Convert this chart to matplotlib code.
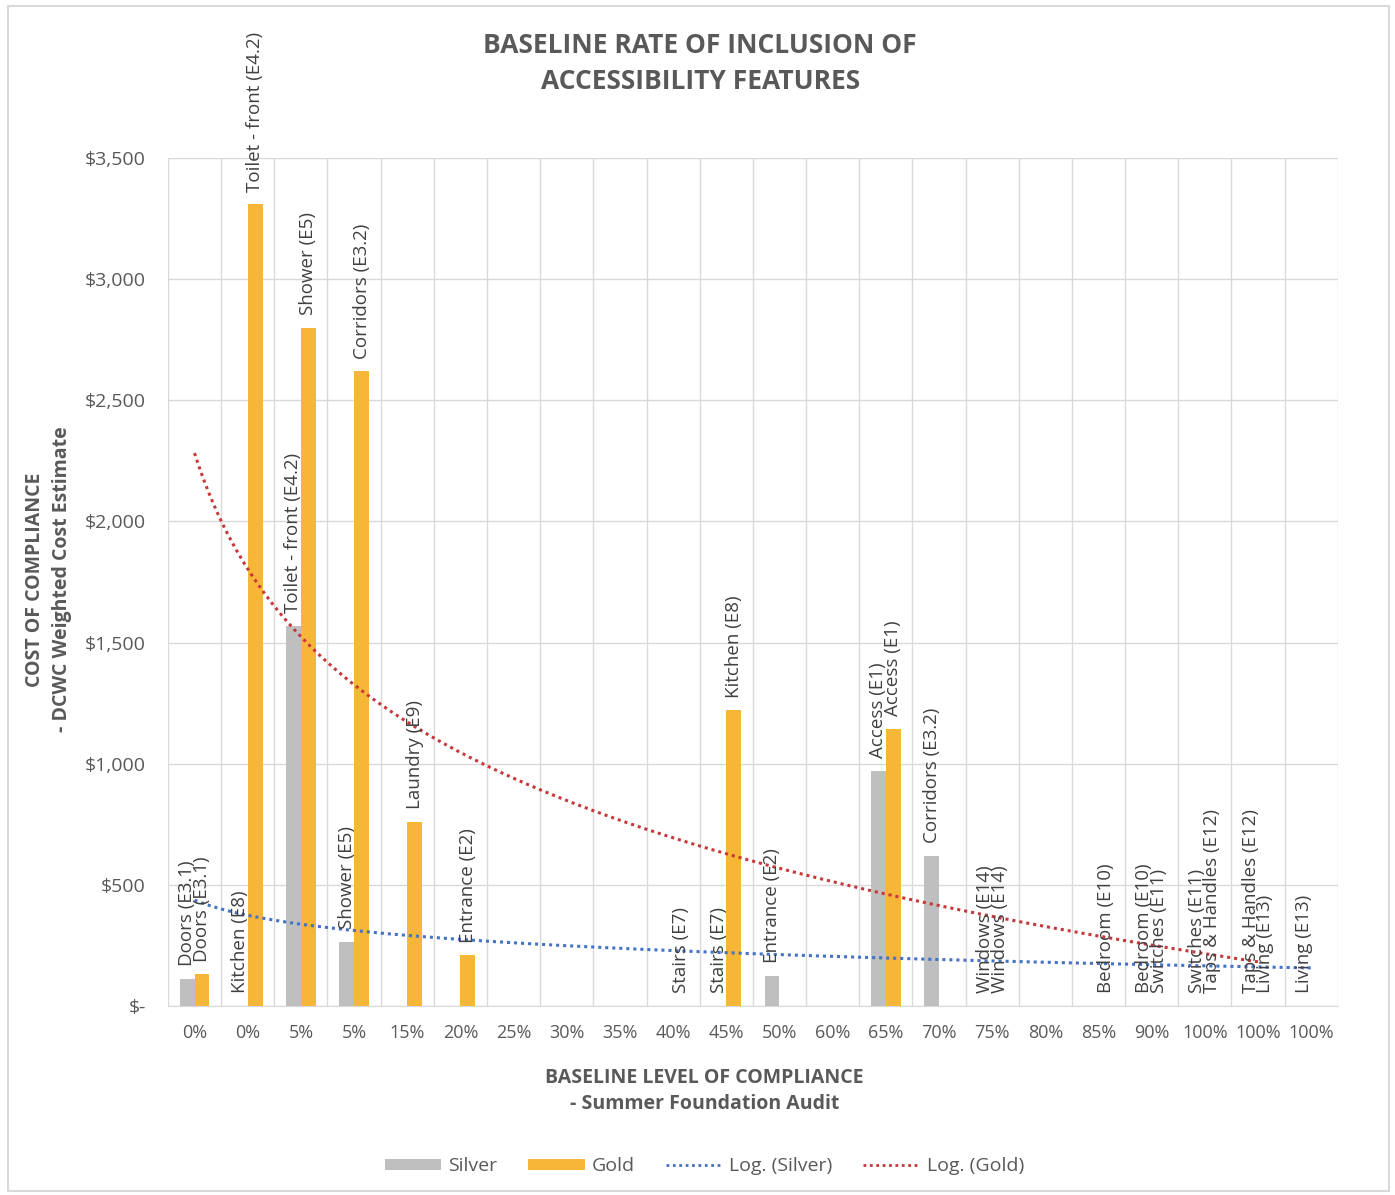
import matplotlib
matplotlib.use("Agg")
import matplotlib.pyplot as plt
import numpy as np
from matplotlib.patches import Patch, Rectangle
from matplotlib.lines import Line2D
from matplotlib.ticker import FuncFormatter

plt.rcParams["font.family"] = ["Open Sans", "DejaVu Sans"]

# categories (baseline level of compliance)
categories = ["0%", "0%", "5%", "5%", "15%", "20%", "25%", "30%", "35%", "40%", "45%",
              "50%", "60%", "65%", "70%", "75%", "80%", "85%", "90%", "100%", "100%", "100%"]

nan = np.nan
silver = [113, 0, 1570, 265, nan, nan, nan, nan, nan, nan, 0,
          124, nan, 970, 620, 0, nan, nan, 0, 0, 0, 0]
gold = [130, 3310, 2800, 2620, 760, 210, nan, nan, nan, 0, 1220,
        nan, nan, 1145, nan, 0, nan, 0, 0, 0, 0, nan]

silver_labels = ["Doors (E3.1)", "Kitchen (E8)", "Toilet - front (E4.2)", "Shower (E5)",
                 None, None, None, None, None, None, "Stairs (E7)",
                 "Entrance (E2)", None, "Access (E1)", "Corridors (E3.2)", "Windows (E14)",
                 None, None, "Bedroom (E10)", "Switches (E11)", "Taps & Handles (E12)", "Living (E13)"]
gold_labels = ["Doors (E3.1)", "Toilet - front (E4.2)", "Shower (E5)", "Corridors (E3.2)",
               "Laundry (E9)", "Entrance (E2)", None, None, None, "Stairs (E7)", "Kitchen (E8)",
               None, None, "Access (E1)", None, "Windows (E14)",
               None, "Bedroom (E10)", "Switches (E11)", "Taps & Handles (E12)", "Living (E13)", None]

# logarithmic trendlines y = a*ln(x) + b, x = category number
log_silver = (-90.6, 437.0)
log_gold = (-689.7, 2282.0)
n_silver_pts = 22
n_gold_pts = 21

C_SILVER = "#BFBFBF"
C_GOLD = "#F6B637"
C_TEXT = "#595959"
C_LABEL = "#404040"
C_GRID = "#D9D9D9"

fig = plt.figure(figsize=(13.95, 11.95), dpi=100)
ax = fig.add_axes([0.1204, 0.1582, 0.8386, 0.7096])

x = np.arange(len(categories))
w = 0.28
ax.bar(x - w / 2, silver, width=w, color=C_SILVER, zorder=3)
ax.bar(x + w / 2, gold, width=w, color=C_GOLD, zorder=3)

for xs, vals, labs in [(x - w / 2, silver, silver_labels), (x + w / 2, gold, gold_labels)]:
    for xi, v, lab in zip(xs, vals, labs):
        if lab is None:
            continue
        ax.annotate(lab, (xi, v), xytext=(0, 9), textcoords="offset points",
                    rotation=90, ha="center", va="bottom", fontsize=13.5,
                    color=C_LABEL, zorder=5)

# trendlines
xt = np.linspace(1, n_silver_pts, 300)
a, b = log_silver
ax.plot(xt - 1, a * np.log(xt) + b, color="#4472C4", lw=2.2,
        linestyle=(0, (1, 1.3)), zorder=4)
xt = np.linspace(1, n_gold_pts, 300)
a, b = log_gold
ax.plot(xt - 1, a * np.log(xt) + b, color="#C8373A", lw=2.2,
        linestyle=(0, (1, 1.3)), zorder=4)

ax.set_xlim(-0.5, len(categories) - 0.5)
ax.set_ylim(0, 3500)
ax.set_yticks(np.arange(0, 3501, 500))
ax.yaxis.set_major_formatter(FuncFormatter(lambda v, p: "$-" if v == 0 else f"${v:,.0f}"))
ax.set_xticks(x)
ax.set_xticklabels(categories)
ax.set_xticks(np.arange(-0.5, len(categories)), minor=True)
ax.tick_params(axis="both", which="both", length=0, labelsize=13, colors=C_TEXT)
ax.tick_params(axis="y", labelsize=14, pad=16)
ax.tick_params(axis="x", pad=13)
ax.grid(axis="y", which="major", color=C_GRID, lw=1, zorder=0)
ax.grid(axis="x", which="minor", color=C_GRID, lw=1, zorder=0)
for s in ["top", "right", "left"]:
    ax.spines[s].set_visible(False)
ax.spines["bottom"].set_color(C_GRID)

fig.text(0.502, 0.947, "BASELINE RATE OF INCLUSION OF\nACCESSIBILITY FEATURES",
         ha="center", va="center", fontsize=19, fontweight="bold", color=C_TEXT,
         linespacing=1.45)
fig.text(0.505, 0.087, "BASELINE LEVEL OF COMPLIANCE\n- Summer Foundation Audit",
         ha="center", va="center", fontsize=14, fontweight="bold", color=C_TEXT,
         linespacing=1.45)
fig.text(0.035, 0.515, "COST OF COMPLIANCE\n- DCWC Weighted Cost Estimate",
         ha="center", va="center", rotation=90, fontsize=14, fontweight="bold",
         color=C_TEXT, linespacing=1.45)

handles = [
    Patch(facecolor=C_SILVER, label="Silver"),
    Patch(facecolor=C_GOLD, label="Gold"),
    Line2D([], [], color="#4472C4", lw=2, linestyle=(0, (1, 1.3)), label="Log. (Silver)"),
    Line2D([], [], color="#C8373A", lw=2, linestyle=(0, (1, 1.3)), label="Log. (Gold)"),
]
leg = fig.legend(handles=handles, loc="center", bbox_to_anchor=(0.505, 0.024), ncol=4,
                 frameon=False, fontsize=14, handlelength=2.9, handleheight=0.5,
                 columnspacing=1.6, handletextpad=0.35)
for t in leg.get_texts():
    t.set_color(C_TEXT)

fig.patches.append(Rectangle((0.006, 0.003), 0.99, 0.992, transform=fig.transFigure,
                             fill=False, edgecolor=C_GRID, lw=1.5))

fig.savefig("out.png", dpi=100)
